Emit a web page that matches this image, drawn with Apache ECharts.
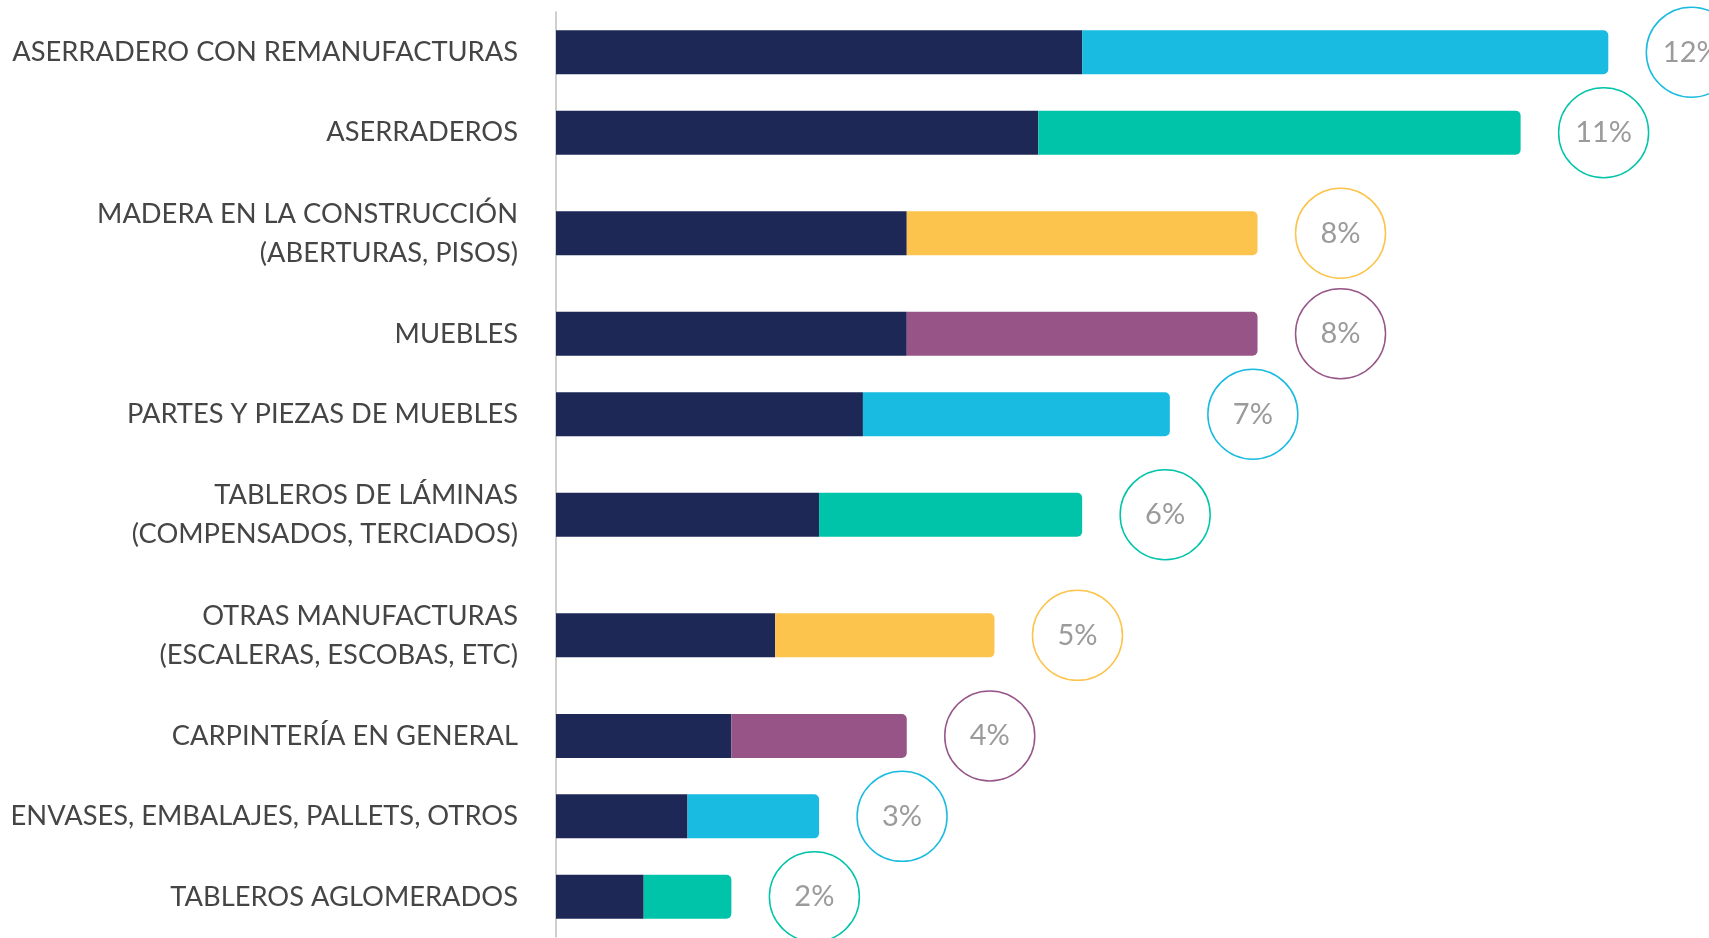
<!DOCTYPE html>
<html>
<head>
<meta charset="utf-8">
<title>Sectores</title>
<script src="https://cdn.jsdelivr.net/npm/echarts@6/dist/echarts.min.js"></script>
<style>
  html, body { margin: 0; padding: 0; background: #fff; }
  #chart { width: 1709px; height: 938px; }
</style>
</head>
<body>
<div id="chart"></div>
<script>
const categories = [
  'ASERRADERO CON REMANUFACTURAS',
  'ASERRADEROS',
  'MADERA EN LA CONSTRUCCIÓN\n(ABERTURAS, PISOS)',
  'MUEBLES',
  'PARTES Y PIEZAS DE MUEBLES',
  'TABLEROS DE LÁMINAS\n(COMPENSADOS, TERCIADOS)',
  'OTRAS MANUFACTURAS\n(ESCALERAS, ESCOBAS, ETC)',
  'CARPINTERÍA EN GENERAL',
  'ENVASES, EMBALAJES, PALLETS, OTROS',
  'TABLEROS AGLOMERADOS'
];
const shareLabels = ['12%', '11%', '8%', '8%', '7%', '6%', '5%', '4%', '3%', '2%'];
const darkPart = [6, 5.5, 4, 4, 3.5, 3, 2.5, 2, 1.5, 1];
const accentPart = [6, 5.5, 4, 4, 3.5, 3, 2.5, 2, 1.5, 1];
const accentColors = ['#1abbe0', '#00c4a9', '#fcc44c', '#975587', '#1abbe0',
  '#00c4a9', '#fcc44c', '#975587', '#1abbe0', '#00c4a9'];

const navy = '#1e2857';
const font = 'Lato';

// rows with two-line labels take more room, so the axis is split into half-line slots
const slotNames = [''];
const darkSlots = ['-'];
const accentSlots = ['-'];
const pushBlank = n => {
  for (let k = 0; k < n; k++) {
    slotNames.push('');
    darkSlots.push('-');
    accentSlots.push('-');
  }
};
categories.forEach((name, i) => {
  const span = name.includes('\n') ? 6 : 4;
  pushBlank(span / 2 - 1);
  slotNames.push(name);
  darkSlots.push(darkPart[i]);
  accentSlots.push({
    value: accentPart[i],
    itemStyle: { color: accentColors[i] },
    label: { formatter: shareLabels[i], borderColor: accentColors[i] }
  });
  pushBlank(span / 2);
});

const chart = echarts.init(document.getElementById('chart'));

const option = {
  animation: false,
  grid: { left: 556, right: 13, top: 12, bottom: 1, outerBoundsMode: 'none' },
  xAxis: { type: 'value', min: 0, max: 13, show: false },
  yAxis: {
    type: 'category',
    inverse: true,
    boundaryGap: false,
    data: slotNames,
    axisLine: { show: true, lineStyle: { color: '#bfbfbf', width: 1.5 } },
    axisTick: { show: false },
    splitLine: { show: false },
    axisLabel: {
      interval: 0,
      margin: 38,
      color: '#454545',
      fontFamily: font,
      fontSize: 27.3,
      lineHeight: 39
    }
  },
  series: [
    {
      type: 'bar',
      stack: 'total',
      barWidth: 44,
      data: darkSlots,
      itemStyle: { color: navy }
    },
    {
      type: 'bar',
      stack: 'total',
      barWidth: 44,
      data: accentSlots,
      itemStyle: { borderRadius: [0, 5, 5, 0] },
      label: {
        show: true,
        position: 'right',
        distance: 83,
        align: 'center',
        verticalAlign: 'middle',
        width: 90,
        height: 90,
        lineHeight: 90,
        borderRadius: 45,
        borderWidth: 1.5,
        color: '#9b9b9b',
        fontFamily: font,
        fontSize: 29
      }
    }
  ]
};

chart.setOption(option);
</script>
</body>
</html>
